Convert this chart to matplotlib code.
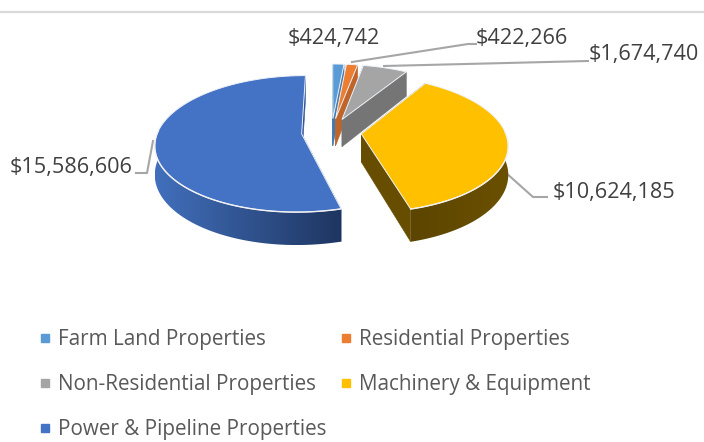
import numpy as np
import matplotlib
matplotlib.use("Agg")
import matplotlib.pyplot as plt
from matplotlib.patches import Polygon
from matplotlib.lines import Line2D
from matplotlib.colors import LinearSegmentedColormap

# [Data]______________________________________________________________________

categories = ["Farm Land Properties", "Residential Properties", "Non-Residential Properties",
              "Machinery & Equipment", "Power & Pipeline Properties"]
values = [424742, 422266, 1674740, 10624185, 15586606]
value_labels = ["$424,742", "$422,266", "$1,674,740", "$10,624,185", "$15,586,606"]

top_colors = ["#5b9bd5", "#ed7d31", "#a5a5a5", "#ffc000", "#4472c4"]
side_colors = ["#3f7ab0", "#c0652a", "#757575", "#664d00", "#2f5597"]
wall_left = ["#5b9bd5", "#c0652a", "#8a8a8a", "#6b5000", "#4270bd"]
wall_right = ["#3f7ab0", "#c0652a", "#757575", "#5c4500", "#1e3560"]

# [Geometry of the tilted pie, in pixels]_____________________________________

cx, cy = 331.5, 132
R = 144
k = 0.46      # tilt
persp = 0.146 / R
explode = 30
depth = 28
text_col = "#404040"
line_col = "#a6a6a6"


def project(X, Y, Z=0.0):
    s = 1 / (1 + persp * Y)
    return cx + X * s, cy - Y * k * s + Z * s


def slice_geom(a0, a1):
    mid = (a0 + a1) / 2
    ox = explode * np.sin(mid)
    oy = explode * np.cos(mid)
    ang = np.linspace(a0, a1, 200)
    return ox, oy, ang


fig = plt.figure(figsize=(7.04, 4.42), dpi=100)
ax = fig.add_axes([0, 0, 1, 1])
ax.set_xlim(0, 704)
ax.set_ylim(442, 0)
ax.axis("off")

# rule on top of the chart
ax.plot([0, 704], [12, 12], color="#d9d9d9", lw=1.6, zorder=1)

frac = np.array(values) / np.sum(values)
edges = np.concatenate([[0], np.cumsum(frac)]) * 2 * np.pi

# [Leader lines]______________________________________________________________

ax.plot([352, 468, 476], [62, 44, 44], color=line_col, lw=1.5, zorder=2)
ax.plot([384, 588], [66, 61], color=line_col, lw=1.5, zorder=2)
ax.plot([505, 533, 547], [172, 197, 197], color=line_col, lw=1.5, zorder=2)
ax.plot([153, 147, 136], [141, 173, 173], color=line_col, lw=1.5, zorder=2)

# [Slices]____________________________________________________________________

z = 3
for i in range(len(values)):
    a0, a1 = edges[i], edges[i + 1]
    ox, oy, ang = slice_geom(a0, a1)
    rim = np.column_stack([ox + R * np.sin(ang), oy + R * np.cos(ang)])
    apex = (ox, oy)

    # cut faces, the one further back first
    for ray_end in sorted([rim[0], rim[-1]], key=lambda p: -(p[1] + apex[1])):
        a = [project(apex[0], apex[1]), project(ray_end[0], ray_end[1]),
             project(ray_end[0], ray_end[1], depth), project(apex[0], apex[1], depth)]
        ax.add_patch(Polygon(a, closed=True, fc=side_colors[i], ec=side_colors[i], lw=0.4, zorder=z))
        z += 1

    # outer wall, only the front part of the rim shows
    front = rim[(np.cos(ang) < 0.05)]
    if len(front) > 1:
        up = [project(p[0], p[1]) for p in front]
        low = [project(p[0], p[1], depth) for p in front[::-1]]
        wall = Polygon(up + low, closed=True, fc="none", ec="none", zorder=z)
        ax.add_patch(wall)
        xs = np.array(up + low)
        cmap = LinearSegmentedColormap.from_list("w", [wall_left[i], wall_right[i]])
        grad = np.linspace(0, 1, 256).reshape(1, -1)
        if i == 3:
            grad = grad[:, ::-1]
        im = ax.imshow(grad, cmap=cmap, aspect="auto", zorder=z,
                       extent=[xs[:, 0].min(), xs[:, 0].max(), xs[:, 1].max(), xs[:, 1].min()])
        im.set_clip_path(wall)
        ax.plot(*zip(*up), color="#f2f2f2", lw=1.0, zorder=z + 2)
        z += 1
    ax.set_xlim(0, 704)
    ax.set_ylim(442, 0)

    # top surface
    top = [project(apex[0], apex[1])] + [project(p[0], p[1]) for p in rim]
    ax.add_patch(Polygon(top, closed=True, fc=top_colors[i], ec="#eef2f8", lw=0.7, zorder=z))
    z += 2

# [Labels]____________________________________________________________________

font = "Open Sans"
size = 15.6
ax.text(288, 38.5, value_labels[0], color=text_col, fontsize=size, family=font, ha="left", va="center", zorder=60)
ax.text(476, 38.5, value_labels[1], color=text_col, fontsize=size, family=font, ha="left", va="center", zorder=60)
ax.text(589, 54.5, value_labels[2], color=text_col, fontsize=size, family=font, ha="left", va="center", zorder=60)
ax.text(553, 192.5, value_labels[3], color=text_col, fontsize=size, family=font, ha="left", va="center", zorder=60)
ax.text(10, 167.5, value_labels[4], color=text_col, fontsize=size, family=font, ha="left", va="center", zorder=60)

# [Legend]____________________________________________________________________

handles = [Line2D([], [], ls="none", marker="s", ms=6, mfc=c, mec=c) for c in top_colors]
order = [0, 2, 4, 1, 3]  # excel fills rows first
leg = ax.legend([handles[j] for j in order], [categories[j] for j in order], ncol=2,
                loc="upper left", bbox_to_anchor=(39 / 704, 1 - 329 / 442), frameon=False,
                prop={"family": font, "size": 14.9}, labelcolor="#595959",
                handlelength=0.6, handletextpad=0.33, labelspacing=1.17, columnspacing=0.62,
                borderpad=0, borderaxespad=0)
leg.set_zorder(60)

plt.savefig("out.png", dpi=100)
